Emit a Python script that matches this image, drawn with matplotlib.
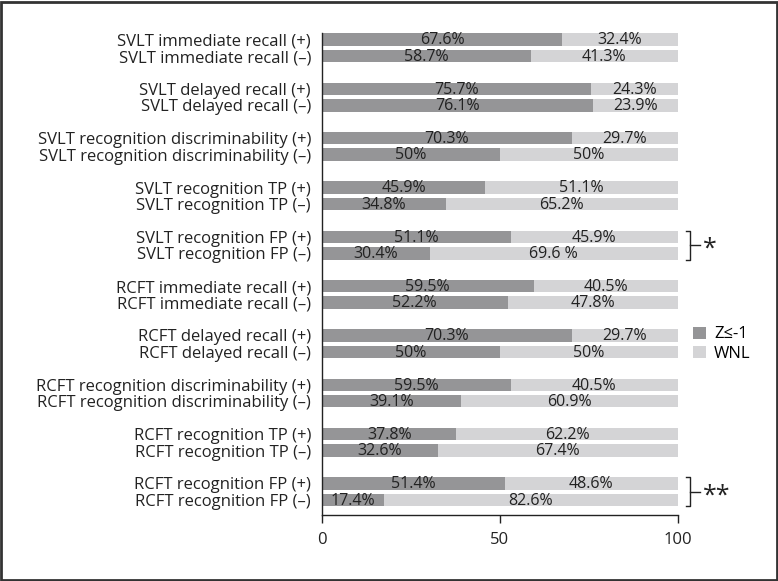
import numpy as np
import matplotlib
matplotlib.use("Agg")
import matplotlib.pyplot as plt
from matplotlib.patches import Rectangle

plt.rcParams["font.family"] = ["Open Sans", "DejaVu Sans"]

DARK, LIGHT, INK = "#959597", "#d4d4d6", "#222222"

# ── Data ──────────────────────────────────────────────────────────────────────
tests = [
    "SVLT immediate recall", "SVLT delayed recall",
    "SVLT recognition discriminability", "SVLT recognition TP",
    "SVLT recognition FP", "RCFT immediate recall", "RCFT delayed recall",
    "RCFT recognition discriminability", "RCFT recognition TP",
    "RCFT recognition FP",
]
# dark (Z<=-1) bar lengths as drawn, (+) then (-) per test
z_pos = [67.6, 75.7, 70.3, 45.9, 53.2, 59.5, 70.3, 53.2, 37.8, 51.4]
z_neg = [58.7, 76.1, 50.0, 34.8, 30.4, 52.2, 50.0, 39.1, 32.6, 17.4]
# printed labels
lab_z_pos = ["67.6%", "75.7%", "70.3%", "45.9%", "51.1%", "59.5%", "70.3%", "59.5%", "37.8%", "51.4%"]
lab_w_pos = ["32.4%", "24.3%", "29.7%", "51.1%", "45.9%", "40.5%", "29.7%", "40.5%", "62.2%", "48.6%"]
lab_z_neg = ["58.7%", "76.1%", "50%", "34.8%", "30.4%", "52.2%", "50%", "39.1%", "32.6%", "17.4%"]
lab_w_neg = ["41.3%", "23.9%", "50%", "65.2%", "69.6 %", "47.8%", "50%", "60.9%", "67.4%", "82.6%"]
signif = {4: "*", 9: "**"}

# ── Build rows ────────────────────────────────────────────────────────────────
rows_y, rows_z, rows_lz, rows_lw, rows_name = [], [], [], [], []
for k, t in enumerate(tests):
    rows_y += [3 * k, 3 * k + 1]
    rows_z += [z_pos[k], z_neg[k]]
    rows_lz += [lab_z_pos[k], lab_z_neg[k]]
    rows_lw += [lab_w_pos[k], lab_w_neg[k]]
    rows_name += [f"{t} (+)", f"{t} (\u2013)"]
rows_y = np.array(rows_y)
rows_z = np.array(rows_z)

fig = plt.figure(figsize=(7.78, 5.81), dpi=100)
ax = fig.add_axes([0.4139, 0.1136, 0.4570, 0.8296])

h = 0.76
ax.barh(rows_y, rows_z, height=h, color=DARK, label="Z\u2264-1")
ax.barh(rows_y, 100 - rows_z, left=rows_z, height=h, color=LIGHT, label="WNL")

for y, z, lz, lw in zip(rows_y, rows_z, rows_lz, rows_lw):
    ax.text(z / 2, y + 0.05, lz, ha="center", va="center", fontsize=11.5, color=INK)
    ax.text(z + (100 - z) / 2, y + 0.05, lw, ha="center", va="center", fontsize=11.5, color=INK)

ax.set_yticks(rows_y)
ax.set_yticklabels(rows_name, fontsize=12, color=INK)
ax.tick_params(axis="y", length=0, pad=8)
ax.set_xticks([0, 50, 100])
ax.tick_params(axis="x", length=6, width=1, labelsize=12, colors=INK, pad=6)
ax.set_xlim(0, 100)
ax.set_ylim(28.92, -0.40)
for s in ["top", "right"]:
    ax.spines[s].set_visible(False)
for s in ["left", "bottom"]:
    ax.spines[s].set_linewidth(1)
    ax.spines[s].set_color(INK)

# significance brackets
for k, star in signif.items():
    y0, y1 = 3 * k - h / 2, 3 * k + 1 + h / 2
    xb = 103.5
    ax.plot([xb - 1.2, xb, xb, xb - 1.2], [y0, y0, y1, y1], color=INK, lw=1, clip_on=False)
    ax.plot([xb, xb + 2.8], [(y0 + y1) / 2] * 2, color=INK, lw=1, clip_on=False)
    ax.text(xb + 3.6, (y0 + y1) / 2 + 0.25, star, ha="left", va="center",
            fontsize=18, color=INK, clip_on=False)

ax.legend(loc="upper left", bbox_to_anchor=(1.025, 0.405), frameon=False,
          fontsize=12, handlelength=0.75, handleheight=0.75, handletextpad=0.5,
          labelspacing=0.2, borderaxespad=0)

fig.patches.append(Rectangle((0.0015, 0.002), 0.997, 0.995, transform=fig.transFigure,
                             fill=False, edgecolor="#333333", lw=2))

fig.savefig("out.png", dpi=100, facecolor="white")
